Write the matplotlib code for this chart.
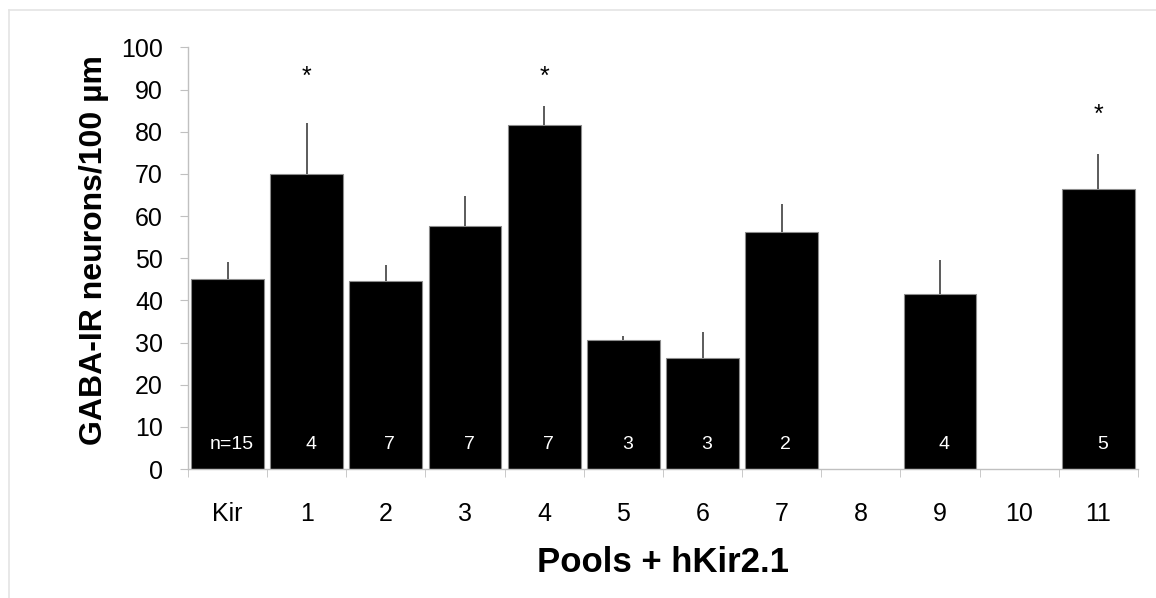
import matplotlib.pyplot as plt
from matplotlib.lines import Line2D
import numpy as np

plt.rcParams['font.family'] = ['Liberation Sans', 'DejaVu Sans']

# data
pools = ['Kir', '1', '2', '3', '4', '5', '6', '7', '8', '9', '10', '11']
means = [45.0, 69.9, 44.7, 57.6, 81.6, 30.6, 26.3, 56.3, np.nan, 41.4, np.nan, 66.4]
sem = [4.1, 12.3, 3.6, 7.2, 4.6, 1.0, 6.3, 6.6, np.nan, 8.2, np.nan, 8.3]
n_labels = ['n=15', '4', '7', '7', '7', '3', '3', '2', '', '4', '', '5']
signif = ['', '*', '', '', '*', '', '', '', '', '', '', '*']
star_y = [np.nan, 93, np.nan, np.nan, 93, np.nan, np.nan, np.nan, np.nan, np.nan, np.nan, 84]

fig = plt.figure(figsize=(11.56, 5.98), dpi=100)
ax = fig.add_axes([0.1626, 0.2157, 0.8218, 0.7049])

x = np.arange(len(pools))
ax.bar(x, means, width=0.92, color='black', edgecolor='#8c8c8c', linewidth=0.8, zorder=2)
ax.errorbar(x, means, yerr=[np.zeros(len(sem)), sem], fmt='none', ecolor='#404040',
            elinewidth=1.2, capsize=0, zorder=3)

for xi, t in zip(x, n_labels):
    if t:
        ax.text(xi + 0.05, 5.7, t, color='white', ha='center', va='center', fontsize=14, zorder=4)
for xi, s, sy in zip(x, signif, star_y):
    if s:
        ax.text(xi, sy, s, ha='center', va='center', fontsize=18, zorder=4)

ax.set_xlim(-0.5, len(pools) - 0.5)
ax.set_ylim(0, 100)
ax.set_yticks(np.arange(0, 101, 10))
ax.set_xticks(x)
ax.set_xticklabels(pools)
ax.set_xticks(np.arange(-0.5, len(pools)), minor=True)
ax.tick_params(axis='x', which='major', length=0, pad=24, labelsize=18)
ax.tick_params(axis='x', which='minor', length=6, color='#c0c0c0', direction='out')
ax.tick_params(axis='y', length=6, color='#c0c0c0', pad=12, labelsize=18)

for side in ['top', 'right']:
    ax.spines[side].set_visible(False)
for side in ['left', 'bottom']:
    ax.spines[side].set_color('#c0c0c0')
    ax.spines[side].set_linewidth(1.0)

ax.set_ylabel('GABA-IR neurons/100 µm', fontsize=23, fontweight='bold')
ax.yaxis.set_label_coords(-0.083, 0.52)
ax.set_xlabel('Pools + hKir2.1', fontsize=25, fontweight='bold', labelpad=14)

# light frame of the original slide
fig.add_artist(Line2D([0.0078, 0.0078], [0.0, 0.983], color='#e4e4e4', lw=1.2))
fig.add_artist(Line2D([0.0078, 1.0], [0.983, 0.983], color='#e4e4e4', lw=1.2))

fig.savefig('out.png', dpi=100)
